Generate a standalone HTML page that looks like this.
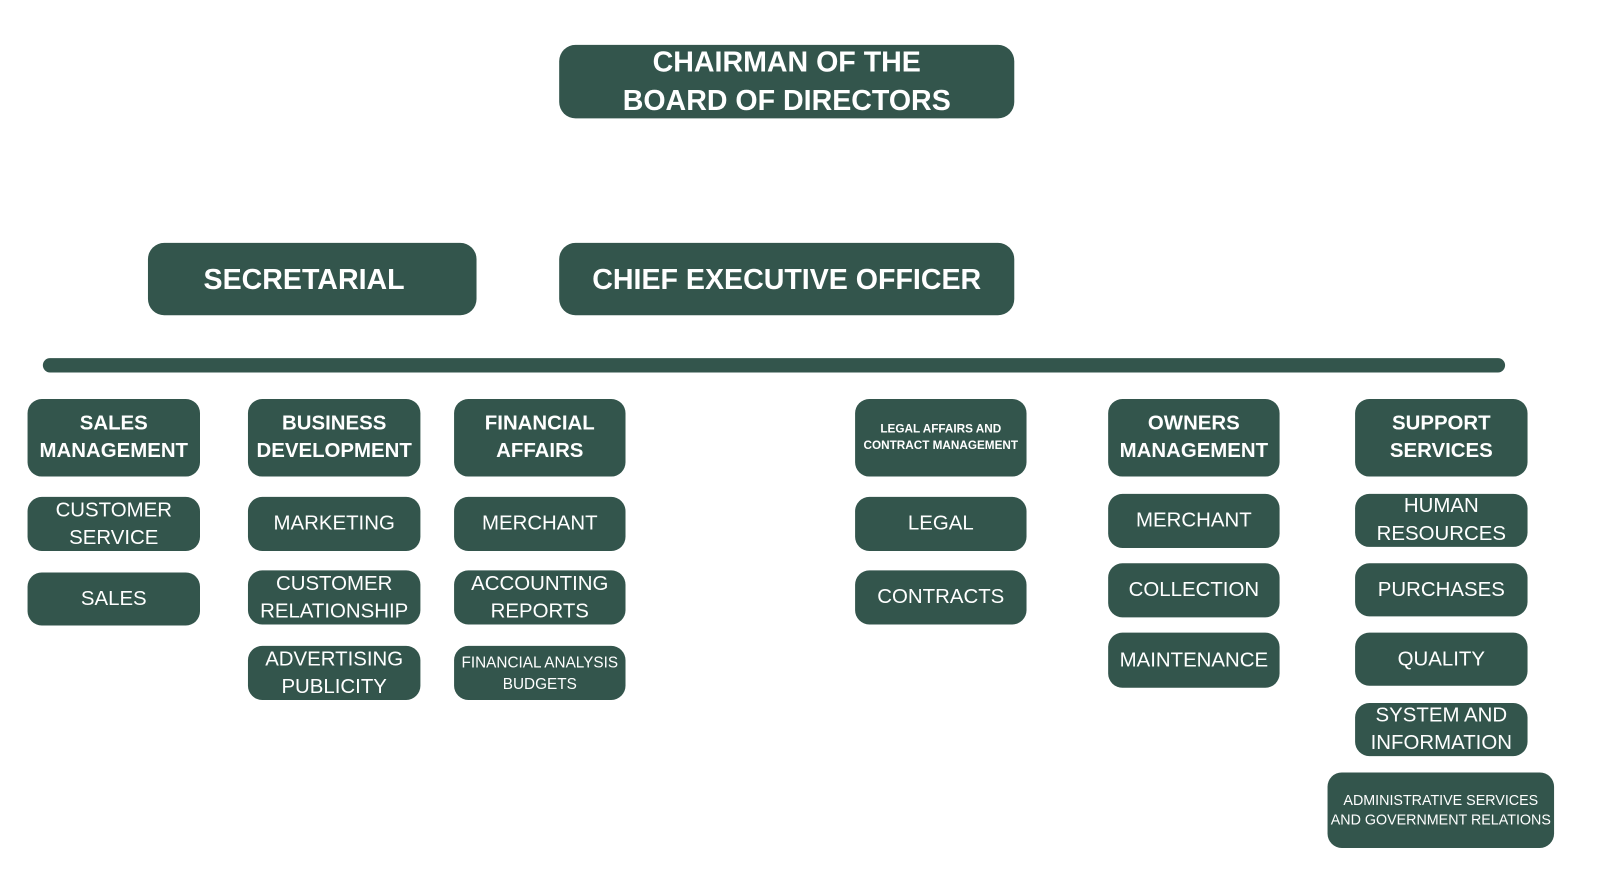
<!DOCTYPE html>
<html><head><style>
body{margin:0;width:1600px;height:887px;background:#fff;position:relative;overflow:hidden;font-family:"Liberation Sans",sans-serif}
#w{position:absolute;left:0;top:0;width:1568px;height:870px;transform:scale(1.0204);transform-origin:0 0}
.b{position:absolute;background:#33554c;color:#fff;border-radius:14px;display:flex;align-items:center;justify-content:center;text-align:center;font-size:20px;line-height:27px;box-sizing:border-box;white-space:nowrap}
.h{font-weight:bold}
</style></head><body><div id="w">
<div class="b h" style="left:548px;top:44px;width:446px;height:72px;font-size:28px;line-height:38px;border-radius:16px">CHAIRMAN OF THE<br>BOARD OF DIRECTORS</div>
<div class="b h" style="left:145px;top:238px;width:322px;height:71px;font-size:28px;border-radius:16px;padding-right:16px">SECRETARIAL</div>
<div class="b h" style="left:548px;top:238px;width:446px;height:71px;font-size:28px;border-radius:16px">CHIEF EXECUTIVE OFFICER</div>
<div style="position:absolute;left:42px;top:351px;width:1433px;height:14px;border-radius:7px;background:#33554c"></div>

<div class="b h" style="left:27px;top:391px;width:169px;height:76px">SALES<br>MANAGEMENT</div>
<div class="b" style="left:27px;top:487px;width:169px;height:53px">CUSTOMER<br>SERVICE</div>
<div class="b" style="left:27px;top:561px;width:169px;height:52px">SALES</div>

<div class="b h" style="left:243px;top:391px;width:169px;height:76px">BUSINESS<br>DEVELOPMENT</div>
<div class="b" style="left:243px;top:487px;width:169px;height:53px">MARKETING</div>
<div class="b" style="left:243px;top:559px;width:169px;height:53px">CUSTOMER<br>RELATIONSHIP</div>
<div class="b" style="left:243px;top:633px;width:169px;height:53px">ADVERTISING<br>PUBLICITY</div>

<div class="b h" style="left:445px;top:391px;width:168px;height:76px">FINANCIAL<br>AFFAIRS</div>
<div class="b" style="left:445px;top:487px;width:168px;height:53px">MERCHANT</div>
<div class="b" style="left:445px;top:559px;width:168px;height:53px">ACCOUNTING<br>REPORTS</div>
<div class="b" style="left:445px;top:633px;width:168px;height:53px;font-size:15px;line-height:21px">FINANCIAL ANALYSIS<br>BUDGETS</div>

<div class="b h" style="left:838px;top:391px;width:168px;height:76px;font-size:11.5px;line-height:16px">LEGAL AFFAIRS AND<br>CONTRACT MANAGEMENT</div>
<div class="b" style="left:838px;top:487px;width:168px;height:53px">LEGAL</div>
<div class="b" style="left:838px;top:559px;width:168px;height:53px">CONTRACTS</div>

<div class="b h" style="left:1086px;top:391px;width:168px;height:76px">OWNERS<br>MANAGEMENT</div>
<div class="b" style="left:1086px;top:484px;width:168px;height:53px">MERCHANT</div>
<div class="b" style="left:1086px;top:552px;width:168px;height:53px">COLLECTION</div>
<div class="b" style="left:1086px;top:620px;width:168px;height:54px">MAINTENANCE</div>

<div class="b h" style="left:1328px;top:391px;width:169px;height:76px">SUPPORT<br>SERVICES</div>
<div class="b" style="left:1328px;top:484px;width:169px;height:52px">HUMAN<br>RESOURCES</div>
<div class="b" style="left:1328px;top:552px;width:169px;height:52px">PURCHASES</div>
<div class="b" style="left:1328px;top:620px;width:169px;height:52px">QUALITY</div>
<div class="b" style="left:1328px;top:689px;width:169px;height:52px">SYSTEM AND<br>INFORMATION</div>
<div class="b" style="left:1301px;top:757px;width:222px;height:74px;font-size:14px;line-height:19px">ADMINISTRATIVE SERVICES<br>AND GOVERNMENT RELATIONS</div>
</div></body></html>
